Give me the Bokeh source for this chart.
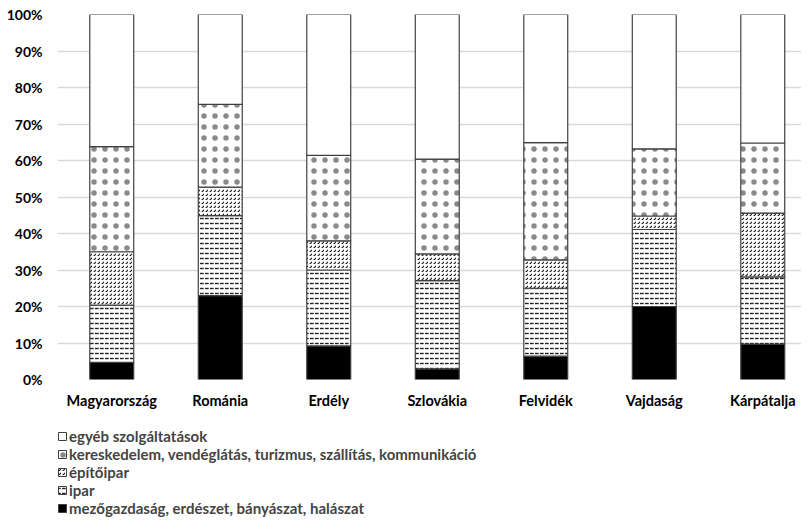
from bokeh.plotting import figure
from bokeh.layouts import column
from bokeh.models import Range1d, FixedTicker, Legend, LegendItem
from bokeh.embed import file_html
from bokeh.resources import INLINE

regions = ["Magyarország", "Románia", "Erdély", "Szlovákia", "Felvidék", "Vajdaság", "Kárpátalja"]

# shares in percent (bottom to top)
mezogazdasag = [4.7, 23.0, 9.2, 2.9, 6.4, 20.0, 9.7]
ipar = [15.7, 21.9, 20.8, 24.2, 18.6, 21.1, 18.4]
epitoipar = [14.6, 7.8, 8.0, 7.3, 7.8, 3.7, 17.5]
kereskedelem = [28.8, 22.7, 23.4, 26.0, 32.1, 18.4, 19.2]
egyeb = [36.2, 24.6, 38.6, 39.6, 35.1, 36.8, 35.2]

series_names = [
    "mezőgazdaság, erdészet, bányászat, halászat",
    "ipar",
    "építőipar",
    "kereskedelem, vendéglátás, turizmus, szállítás, kommunikáció",
    "egyéb szolgáltatások",
]
series_values = [mezogazdasag, ipar, epitoipar, kereskedelem, egyeb]

y_ticks = list(range(0, 101, 10))

FONT = "Lato"
FS = "14.5px"

styles = [
    dict(fill_color="black"),
    dict(fill_color="white", hatch_pattern="horizontal_dash", hatch_scale=5, hatch_weight=1.4, hatch_color="#222222"),
    dict(fill_color="white", hatch_pattern="right_diagonal_dash", hatch_scale=4, hatch_weight=1.2, hatch_color="#222222"),
    dict(fill_color="white", hatch_pattern="dot", hatch_scale=11, hatch_weight=0.6, hatch_color="#8a8a8a"),
    dict(fill_color="white"),
]

p = figure(width=801, height=422, output_backend="svg", toolbar_location=None,
           x_range=Range1d(-0.5, 6.357), y_range=Range1d(0, 100),
           min_border_left=57, min_border_right=0, min_border_top=14, min_border_bottom=43)
p.outline_line_color = None
p.background_fill_color = "white"

xs = list(range(len(regions)))
bottoms = [0.0] * len(regions)
renderers = []
for name, vals, st in zip(series_names, series_values, styles):
    tops = [b + v for b, v in zip(bottoms, vals)]
    p.vbar(x=xs, bottom=bottoms, top=tops, width=0.405,
           line_color="#404040", line_width=1.2, **st)
    renderers.append((name, st))
    bottoms = tops

# axes
p.xaxis.ticker = FixedTicker(ticks=xs)
p.xaxis.major_label_overrides = {i: r for i, r in enumerate(regions)}
p.yaxis.ticker = FixedTicker(ticks=y_ticks)
p.yaxis.major_label_overrides = {t: f"{t}%" for t in y_ticks}
for ax in (p.xaxis[0], p.yaxis[0]):
    ax.axis_line_color = None
    ax.major_tick_line_color = None
    ax.minor_tick_line_color = None
    ax.major_tick_out = 0
    ax.major_tick_in = 0
    ax.major_label_text_font = FONT
    ax.major_label_text_font_style = "bold"
    ax.major_label_text_font_size = FS
    ax.major_label_text_color = "black"
p.yaxis.major_label_text_font_size = "14px"
p.yaxis.major_label_standoff = 15
p.xaxis.major_label_standoff = 12
p.xgrid.grid_line_color = None
p.ygrid.grid_line_color = "#d9d9d9"
p.ygrid.grid_line_width = 1.3

# legend panel (separate figure below the chart)
lg = figure(width=801, height=100, output_backend="svg", toolbar_location=None,
            x_range=Range1d(0, 1), y_range=Range1d(0, 1),
            x_axis_location=None, y_axis_location=None,
            min_border=0, min_border_left=0)
lg.grid.visible = False
lg.outline_line_color = None

items = []
for name, st in reversed(renderers):
    # legend swatch source, kept outside the visible range
    dummy = lg.vbar(x=[5], bottom=[5], top=[6], width=0.5,
                    line_color="#404040", line_width=1.0, **st)
    items.append(LegendItem(label=name, renderers=[dummy]))

legend = Legend(items=items, location=(0, 5), orientation="vertical",
                glyph_width=10, glyph_height=10, label_height=18, spacing=0,
                label_standoff=2, padding=0, margin=0,
                label_text_font=FONT, label_text_font_style="bold",
                label_text_font_size="15px", border_line_color=None,
                background_fill_alpha=0)
lg.add_layout(legend)

layout = column(p, lg, spacing=0)
open("out.html", "w").write(file_html(layout, INLINE))
